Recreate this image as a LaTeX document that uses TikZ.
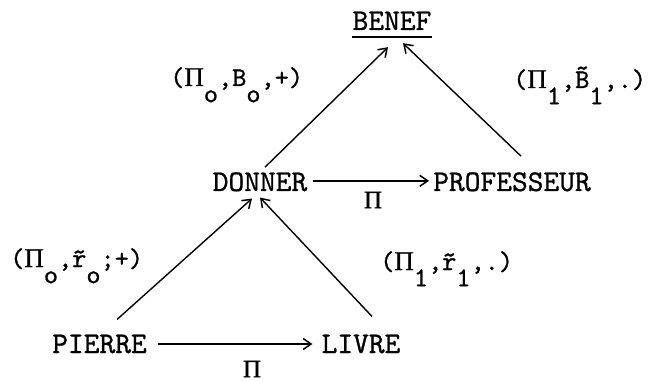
\documentclass[tikz,border=0pt]{standalone}
\usepackage{fontspec}
\setmonofont{lmmono10-regular.otf}[FakeBold=0.9]
\newfontfamily\gfont{Liberation Serif}[FakeBold=0.9]
\usetikzlibrary{arrows.meta}
\newcommand\PiG{{\gfont Π}}
\newcommand\lowr[1]{\raisebox{-0.6em}{#1}}
\newcommand\tcap[1]{\accent"02DC #1}
\tikzset{
  word/.style={font=\ttfamily\fontsize{30}{30}\selectfont, inner sep=0pt, anchor=base},
  rel/.style={font=\ttfamily\fontsize{27}{27}\selectfont, inner sep=0pt, anchor=base west},
  pilbl/.style={font=\fontsize{25}{25}\selectfont\gfont, inner sep=0pt, anchor=center},
  arr/.style={-{Straight Barb[length=8pt,width=11pt,line width=1.5pt]}, line width=1.4pt},
}
\begin{document}
\begin{tikzpicture}[x=1pt,y=-1pt]
\useasboundingbox (0,0) rectangle (653,382);
% nodes
\node[word] (benef) at (392,30) {BENEF};
\node[word] (donner) at (260,191) {DONNER};
\node[word] (prof) at (512,191) {PROFESSEUR};
\node[word] (pierre) at (99.5,353) {PIERRE};
\node[word] (livre) at (361,353) {LIVRE};
% underline
\draw[line width=1.4pt] ([yshift=-7pt]benef.south west) -- ([yshift=-7pt]benef.south east);
% labels
\node[rel] (l1) at (170,86) {(\PiG\lowr{o},B\lowr{o},+)};
\node[rel] (l2) at (513,88) {(\PiG\lowr{1},\tcap{B}\lowr{1},.)};
\node[rel] (l3) at (10,267) {(\PiG\lowr{o},\~{r}\lowr{o};+)};
\node[rel] (l4) at (380,270) {(\PiG\lowr{1},\~{r}\lowr{1},.)};
\node[pilbl] (p1) at (373,200) {Π};
\node[pilbl] (p2) at (252,369) {Π};
% arrows
\draw[arr] ([xshift=5pt,yshift=5pt]donner.north) -- ([xshift=-4pt,yshift=-17pt]benef.south);
\draw[arr] ([xshift=9pt,yshift=16pt]prof.north) -- ([xshift=11pt,yshift=-13pt]benef.south);
\draw[arr] ([xshift=17.5pt,yshift=15pt]pierre.north) -- ([xshift=-8pt,yshift=-7pt]donner.south);
\draw[arr] ([xshift=11pt,yshift=18pt]livre.north) -- ([xshift=0pt,yshift=-6pt]donner.south);
\draw[arr] ([xshift=5.5pt,yshift=1pt]donner.east) -- ([xshift=-4pt,yshift=1pt]prof.west);
\draw[arr] ([xshift=11pt]pierre.east) -- ([xshift=-9pt]livre.west);
\end{tikzpicture}
\end{document}
